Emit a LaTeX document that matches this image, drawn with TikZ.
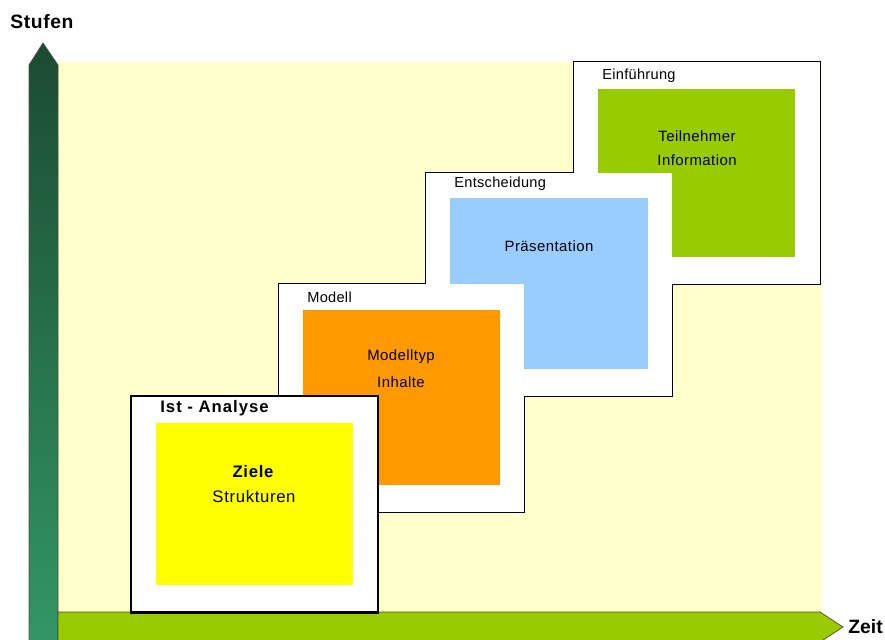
\documentclass[tikz,border=0pt]{standalone}
\usepackage{fontspec}
\setmainfont{Liberation Sans}

\definecolor{bgyellow}{HTML}{FFFFCC}
\definecolor{zielgelb}{HTML}{FFFF00}
\definecolor{modellorange}{HTML}{FF9900}
\definecolor{praesblau}{HTML}{99CCFF}
\definecolor{einfgruen}{HTML}{99CC00}
\definecolor{axisdark}{HTML}{1B4B32}
\definecolor{axislight}{HTML}{339966}

\tikzset{
  stufe/.style={draw=black,line width=0.7pt},
  stufelabel/.style={anchor=west,inner sep=0pt,font=\fontsize{8.3}{10}\selectfont\addfontfeature{LetterSpace=2}},
  boxtext/.style={inner sep=0pt,font=\fontsize{8.5}{10}\selectfont\addfontfeature{LetterSpace=3}},
  axislabel/.style={inner sep=0pt,font=\fontsize{11}{13}\selectfont\bfseries\addfontfeature{LetterSpace=3}}
}

\begin{document}
\begin{tikzpicture}[x=0.02cm,y=-0.02cm]
\clip (0,0) rectangle (885,639);

% Hintergrund
\fill[bgyellow] (58,62) rectangle (822,612);

% Achsen
\shade[top color=axisdark,bottom color=axislight,draw=black!70,line width=0.4pt] (29,660) -- (29,65) -- (43,43) -- (58,65) -- (58,660) -- cycle;
\draw[fill=einfgruen,draw=black!60!olive,line width=0.4pt] (58,612) -- (820,612) -- (843,627) -- (820,642) -- (58,642) -- cycle;

\node[axislabel] (stufen) at (42,22) {Stufen};
\node[axislabel,anchor=west,font=\fontsize{11}{13}\selectfont\bfseries] (zeit) at (848,627) {Zeit};

% Rahmen (nur Aussenkontur sichtbar)
\draw[stufe] (574,62) rectangle (820,284);
\draw[stufe] (426,173) rectangle (672,396);
\draw[stufe] (279,284) rectangle (524,512);

\fill[white] (574,62) rectangle (820,284);
\fill[einfgruen] (598,89) rectangle (795,257);
\fill[white] (426,173) rectangle (672,396);
\fill[praesblau] (450,198) rectangle (648,369);
\fill[white] (279,284) rectangle (524,512);
\fill[modellorange] (303,310) rectangle (500,485);
\draw[fill=white,line width=1.7pt] (131,396) rectangle (378,612);
\fill[zielgelb] (156,423) rectangle (353,585);

% Texte
\node[stufelabel] (einf) at (602,76) {Einführung};
\node[boxtext] (teiln) at (697,136) {Teilnehmer};
\node[boxtext] (info) at (697,160) {Information};

\node[stufelabel] (entsch) at (454,184) {Entscheidung};
\node[boxtext] (praes) at (549,246) {Präsentation};

\node[stufelabel] (modell) at (307,297) {Modell};
\node[boxtext] (mtyp) at (401,357) {Modelltyp};
\node[boxtext] (inhalte) at (401,382) {Inhalte};

\node[stufelabel,font=\fontsize{9.5}{11}\selectfont\bfseries\addfontfeature{LetterSpace=6}] (ist) at (160,408) {Ist - Analyse};
\node[boxtext,font=\fontsize{9.5}{11}\selectfont\bfseries\addfontfeature{LetterSpace=4}] (ziele) at (253,472) {Ziele};
\node[boxtext,font=\fontsize{9.5}{11}\selectfont\addfontfeature{LetterSpace=4}] (strukt) at (254,497) {Strukturen};

\end{tikzpicture}
\end{document}
